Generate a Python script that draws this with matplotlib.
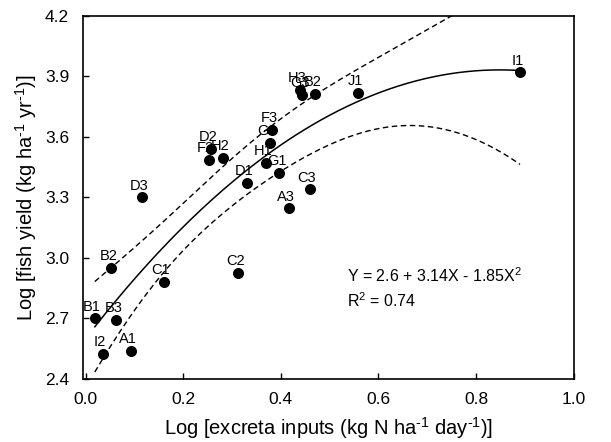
import numpy as np
import matplotlib
matplotlib.use('Agg')
import matplotlib.pyplot as plt

plt.rcParams['font.family'] = ['Liberation Sans', 'DejaVu Sans']
plt.rcParams['mathtext.fontset'] = 'custom'
plt.rcParams['mathtext.rm'] = 'Liberation Sans'
plt.rcParams['mathtext.it'] = 'Liberation Sans:italic'

# ponds: label, log excreta input, log fish yield
labels = ['A1', 'A3', 'B1', 'B2', 'B3', 'C1', 'C2', 'C3', 'D1', 'D2', 'D3', 'F2',
          'F3', 'G1', 'G2', 'G3', 'H1', 'H2', 'H3', 'I1', 'I2', 'J1', 'B2']
x_vals = [0.093, 0.417, 0.019, 0.053, 0.063, 0.160, 0.313, 0.459, 0.331, 0.256, 0.116, 0.252,
          0.382, 0.397, 0.378, 0.444, 0.370, 0.282, 0.440, 0.890, 0.035, 0.558, 0.470]
y_vals = [2.540, 3.246, 2.700, 2.950, 2.695, 2.880, 2.926, 3.340, 3.371, 3.540, 3.300, 3.486,
          3.636, 3.420, 3.571, 3.810, 3.471, 3.495, 3.833, 3.920, 2.524, 3.820, 3.815]

# fitted quadratic shown on the chart
coef = [2.6, 3.14, -1.85]
r2 = 0.74

x = np.array(x_vals)
y = np.array(y_vals)

# 95% confidence band of the fit
xs = np.linspace(x.min(), x.max(), 200)
A = np.column_stack([np.ones_like(x), x, x ** 2])
G = np.column_stack([np.ones_like(xs), xs, xs ** 2])
fit = G @ np.array(coef)
resid = y - A @ np.array(coef)
s = np.sqrt(np.sum(resid ** 2) / (len(x) - 3))
M = np.linalg.inv(A.T @ A)
half = 2.086 * s * np.sqrt(np.einsum('ij,jk,ik->i', G, M, G))

fig = plt.figure(figsize=(6.11, 4.42), dpi=100)
ax = fig.add_axes([0.136, 0.1425, 0.803, 0.8215])

ax.plot(xs, fit, color='black', lw=1.1)
ax.plot(xs, fit + half, color='black', lw=1.0, ls=(0, (4, 2.5)))
ax.plot(xs, fit - half, color='black', lw=1.0, ls=(0, (4, 2.5)))
ax.scatter(x, y, s=48, color='black', zorder=3)

for lab, xi, yi in zip(labels, x_vals, y_vals):
    ax.annotate(lab, (xi, yi), xytext=(-2, 8.5), textcoords='offset points',
                ha='center', va='center', fontsize=10.5)

ax.text(0.535, 2.913, r'Y = 2.6 + 3.14X - 1.85X$^{2}$', fontsize=11.5, va='center')
ax.text(0.535, 2.79, r'R$^{2}$ = %.2f' % r2, fontsize=11.5, va='center')

ax.set_xlim(-0.005, 1.0)
ax.set_ylim(2.4, 4.2)
ax.set_xticks(np.arange(0, 1.01, 0.2))
ax.set_yticks(np.arange(2.4, 4.21, 0.3))
ax.xaxis.set_major_formatter(matplotlib.ticker.FormatStrFormatter('%.1f'))
ax.yaxis.set_major_formatter(matplotlib.ticker.FormatStrFormatter('%.1f'))
ax.tick_params(direction='in', length=4, width=1, labelsize=12.5)
ax.tick_params(axis='x', pad=9)
ax.tick_params(axis='y', pad=10)
for sp in ax.spines.values():
    sp.set_linewidth(1.2)

ax.set_xlabel(r'Log [excreta inputs (kg N ha$^{\text{-1}}$ day$^{\text{-1}}$)]', fontsize=14.5, labelpad=6)
ax.set_ylabel(r'Log [fish yield (kg ha$^{\text{-1}}$ yr$^{\text{-1}}$)]', fontsize=14.5, labelpad=4)

fig.savefig('out.png', dpi=100)
